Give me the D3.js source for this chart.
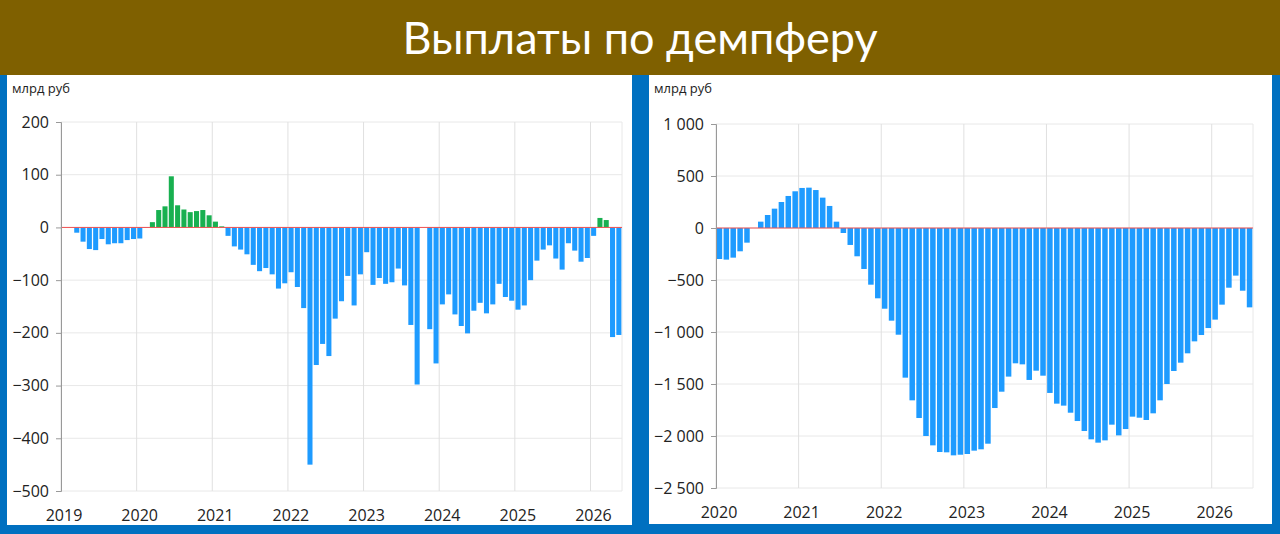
<!DOCTYPE html>
<html lang="ru">
<head>
<meta charset="UTF-8">
<script src="https://d3js.org/d3.v7.min.js"></script>
<style>
  body { margin: 0; background: #0070c0; font-family: "Open Sans", sans-serif; }
  svg text { fill: #222; }
</style>
</head>
<body>
<svg id="chart" width="1280" height="534"></svg>
<script>
// monthly payments, bln rub, Jan 2019 .. May 2026
let monthly = [
  0, 0, -10, -27, -41, -43, -22, -32, -30, -30, -24, -22,
  -21, -1, 10, 33, 40, 97, 42, 34, 29, 31, 33, 23,
  11, 2, -16, -36, -42, -51, -71, -83, -77, -89, -116, -106,
  -85, -113, -153, -450, -261, -221, -244, -173, -140, -92, -148, -89,
  -47, -109, -96, -107, -104, -78, -110, -185, -298, 0, -193, -258,
  -146, -127, -165, -187, -201, -158, -143, -163, -146, -107, -132, -139,
  -156, -148, -100, -63, -42, -34, -59, -80, -30, -44, -65, -58,
  -16, 18, 14, -208, -204
]
// rolling 12-month sum, bln rub, Jan 2020 .. May 2026
let rolling = [
  -298, -304, -285, -224, -141, 0, 61, 125, 186, 250, 308, 353,
  385, 388, 365, 292, 212, 61, -48, -163, -272, -394, -545, -676,
  -776, -891, -1026, -1439, -1657, -1827, -2000, -2090, -2154, -2157, -2186, -2180,
  -2173, -2141, -2128, -2074, -1731, -1574, -1429, -1301, -1311, -1461, -1372, -1420,
  -1586, -1689, -1708, -1776, -1856, -1952, -2032, -2064, -2042, -1891, -1994, -1933,
  -1814, -1824, -1846, -1782, -1657, -1500, -1375, -1295, -1205, -1090, -1029, -962,
  -881, -737, -574, -458, -603, -763
]
let leftTicks = [200, 100, 0, -100, -200, -300, -400, -500]
let rightTicks = [1000, 500, 0, -500, -1000, -1500, -2000, -2500]
let leftYears = [2019, 2020, 2021, 2022, 2023, 2024, 2025, 2026]
let rightYears = [2020, 2021, 2022, 2023, 2024, 2025, 2026]
let unitLabel = "млрд руб"
let title = "Выплаты по демпферу"

let svg = d3.select("#chart")

// header
svg.append("rect").attr("x", 0).attr("y", 0).attr("width", 1280).attr("height", 75).attr("fill", "#7f6000")
svg.append("text").attr("x", 640).attr("y", 54).attr("text-anchor", "middle")
  .style("fill", "#fff").style("font-size", "45px").style("font-family", "Lato, sans-serif").text(title)

let fmt = d => d3.format(",")(d).replace(/,/g, "\u00a0")

function panel(cfg) {
  svg.append("rect").attr("x", cfg.px).attr("y", 75).attr("width", cfg.pw).attr("height", cfg.ph).attr("fill", "#fff")

  let y = d3.scaleLinear().domain(cfg.domain).range([cfg.y1, cfg.y0])
  let x = d3.scaleBand().domain(d3.range(cfg.values.length)).range([cfg.x0, cfg.x1]).paddingInner(0.2).paddingOuter(0.1)
  let startYear = cfg.years[0]
  let months = cfg.values.length
  let xt = d3.scaleLinear().domain([0, months]).range([cfg.x0, cfg.x1])

  let g = svg.append("g")
  // horizontal grid
  g.selectAll(".hg").data(cfg.ticks).join("line")
    .attr("x1", cfg.x0).attr("x2", cfg.x1).attr("y1", d => y(d)).attr("y2", d => y(d))
    .attr("stroke", "#e8e8e8")
  // vertical grid at years
  g.selectAll(".vg").data(cfg.years).join("line")
    .attr("x1", d => xt((d - startYear) * 12)).attr("x2", d => xt((d - startYear) * 12))
    .attr("y1", cfg.y0).attr("y2", cfg.y1).attr("stroke", "#e0e0e0")
  g.append("line").attr("x1", cfg.x1).attr("x2", cfg.x1).attr("y1", cfg.y0).attr("y2", cfg.y1).attr("stroke", "#e8e8e8")

  // bars
  g.selectAll(".bar").data(cfg.values).join("rect")
    .attr("x", (d, i) => x(i)).attr("width", x.bandwidth())
    .attr("y", d => y(Math.max(0, d))).attr("height", d => Math.abs(y(d) - y(0)))
    .attr("fill", d => d > 0 ? cfg.pos : "#1e9bff")

  // zero line
  g.append("line").attr("x1", cfg.x0).attr("x2", cfg.x1).attr("y1", y(0)).attr("y2", y(0))
    .attr("stroke", "#f05050").attr("stroke-width", 1)

  // y axis
  let ax = g.append("g").attr("transform", `translate(${cfg.x0},0)`)
    .call(d3.axisLeft(y).tickValues(cfg.ticks).tickSize(5).tickPadding(7).tickFormat(fmt))
  ax.select(".domain").attr("stroke", "#999")
  ax.selectAll(".tick line").attr("stroke", "#999")
  ax.selectAll("text").style("font-size", "16px").style("fill", "#222").attr("font-family", "Open Sans, sans-serif")

  // year labels
  g.selectAll(".yl").data(cfg.years).join("text")
    .attr("x", d => xt((d - startYear) * 12) + 3).attr("y", cfg.y1 + 30)
    .attr("text-anchor", "middle").style("font-size", "16px").text(d => d)

  g.append("text").attr("x", cfg.px + 5).attr("y", 93).style("font-size", "13px").text(unitLabel)
}

panel({ px: 7, pw: 625, ph: 450, x0: 61, x1: 622, y0: 122, y1: 491,
  domain: [-500, 200], ticks: leftTicks, years: leftYears, values: monthly, pos: "#18b050" })
panel({ px: 649, pw: 623, ph: 449, x0: 716, x1: 1253, y0: 124, y1: 488,
  domain: [-2500, 1000], ticks: rightTicks, years: rightYears, values: rolling, pos: "#1e9bff" })
</script>
</body>
</html>
